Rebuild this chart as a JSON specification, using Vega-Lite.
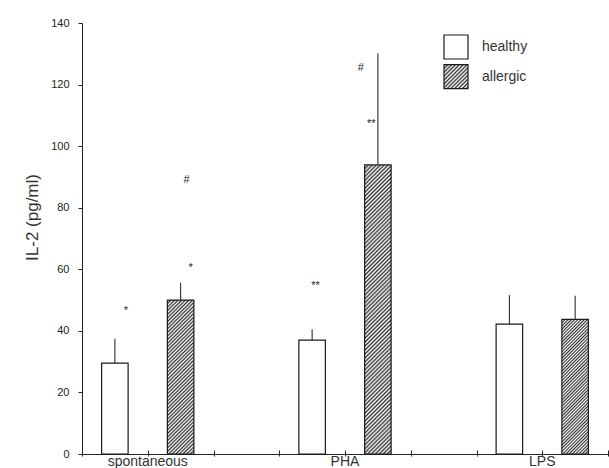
{
  "$schema": "https://vega.github.io/schema/vega-lite/v6.json",
  "width": 526,
  "height": 431,
  "autosize": "none",
  "padding": {"left": 82, "top": 23, "right": 1, "bottom": 14},
  "background": "white",
  "config": {"view": {"stroke": null}, "font": "Liberation Sans"},
  "datasets": {
    "bars": [
      {"stim": "spontaneous", "group": "healthy", "mean": 29.5, "upper": 37.4},
      {"stim": "spontaneous", "group": "allergic", "mean": 50.0, "upper": 55.6},
      {"stim": "PHA", "group": "healthy", "mean": 37.0, "upper": 40.5},
      {"stim": "PHA", "group": "allergic", "mean": 93.9, "upper": 130.1},
      {"stim": "LPS", "group": "healthy", "mean": 42.2, "upper": 51.6},
      {"stim": "LPS", "group": "allergic", "mean": 43.7, "upper": 51.4}
    ],
    "notes": [
      {"stim": "spontaneous", "group": "healthy", "label": "*", "y": 45.4},
      {"stim": "spontaneous", "group": "allergic", "label": "#", "y": 88.1},
      {"stim": "spontaneous", "group": "allergic", "label": "*", "y": 59.3},
      {"stim": "PHA", "group": "healthy", "label": "**", "y": 53.5},
      {"stim": "PHA", "group": "allergic", "label": "#", "y": 124.4},
      {"stim": "PHA", "group": "allergic", "label": "**", "y": 106.1}
    ]
  },
  "data": {"name": "bars"},
  "resolve": {"scale": {"x": "independent"}, "axis": {"x": "independent"}},
  "layer": [
    {
      "mark": {"type": "rule", "opacity": 0},
      "encoding": {
        "x": {"datum": 0, "type": "quantitative", "scale": {"domain": [0, 8], "nice": false, "zero": false},
          "axis": {"orient": "bottom", "values": [0, 1, 2, 3, 4, 5, 6, 7, 8], "labels": false, "domain": false, "grid": false, "title": null, "tickSize": 6, "offset": -4, "tickColor": "#222", "tickWidth": 1}}
      }
    },
    {
      "mark": {"type": "rule", "opacity": 0},
      "encoding": {
        "x": {"datum": 0, "type": "quantitative", "scale": {"domain": [0, 8], "nice": false, "zero": false},
          "axis": {"orient": "bottom", "labels": false, "ticks": false, "domain": true, "domainColor": "#222", "domainWidth": 1, "grid": false, "title": null}}
      }
    },
    {
      "encoding": {
        "x": {"field": "stim", "type": "nominal", "sort": ["spontaneous", "PHA", "LPS"],
          "scale": {"domain": ["spontaneous", "PHA", "LPS"], "range": [-32.875, 558.875], "paddingInner": 0, "paddingOuter": 0},
          "axis": {"orient": "bottom", "title": null, "domain": false, "ticks": false, "labelAngle": 0, "labelFontSize": 14, "labelColor": "#333", "labelPadding": 0, "grid": false}},
        "xOffset": {"field": "group", "type": "nominal", "sort": ["healthy", "allergic"],
          "scale": {"domain": ["healthy", "allergic"], "paddingInner": 0.597, "paddingOuter": 0.7985}}
      },
      "layer": [
        {
          "mark": {"type": "bar", "strokeWidth": 1.2, "fill": {"gradient": "linear", "x1": 0, "y1": 0, "x2": 1, "y2": 1, "stops": [
{"offset":0,"color":"#333"},{"offset":0.04,"color":"#fff"},{"offset":0.08,"color":"#333"},{"offset":0.12,"color":"#fff"},{"offset":0.16,"color":"#333"},{"offset":0.2,"color":"#fff"},{"offset":0.24,"color":"#333"},{"offset":0.28,"color":"#fff"},{"offset":0.32,"color":"#333"},{"offset":0.36,"color":"#fff"},{"offset":0.4,"color":"#333"},{"offset":0.44,"color":"#fff"},{"offset":0.48,"color":"#333"},{"offset":0.52,"color":"#fff"},{"offset":0.56,"color":"#333"},{"offset":0.6,"color":"#fff"},{"offset":0.64,"color":"#333"},{"offset":0.68,"color":"#fff"},{"offset":0.72,"color":"#333"},{"offset":0.76,"color":"#fff"},{"offset":0.8,"color":"#333"},{"offset":0.84,"color":"#fff"},{"offset":0.88,"color":"#333"},{"offset":0.92,"color":"#fff"},{"offset":0.96,"color":"#333"},{"offset":1,"color":"#fff"}
          ]}},
          "encoding": {
            "y": {"field": "mean", "type": "quantitative",
              "scale": {"domain": [0, 140], "nice": false},
              "axis": {"values": [0, 20, 40, 60, 80, 100, 120, 140], "tickSize": 4, "tickColor": "#222", "domainColor": "#222", "grid": false, "labelFontSize": 11, "labelColor": "#222", "labelPadding": 9,
                "title": "IL-2 (pg/ml)", "titleFontSize": 17, "titleFontWeight": "normal", "titleColor": "#333", "titleX": -50, "titleY": 194, "titleBaseline": "middle", "titleAlign": "center"}},
            "stroke": {"field": "group", "type": "nominal",
              "scale": {"domain": ["allergic", "healthy"], "range": ["#1a1a1a", "#1a1a1a"]},
              "legend": {"title": null, "orient": "none", "legendX": 361, "legendY": 40.7, "padding": 0, "values": ["allergic"],
                "symbolType": "square", "symbolSize": 576, "symbolStrokeWidth": 1.2,
                "labelFontSize": 14, "labelColor": "#333", "labelOffset": 13}},
            "fill": {
              "condition": [
                {"test": "false", "value": {"gradient": "linear", "x1": 0, "y1": 0, "x2": 1, "y2": 1, "stops": [
{"offset":0,"color":"#333"},{"offset":0.04,"color":"#fff"},{"offset":0.08,"color":"#333"},{"offset":0.12,"color":"#fff"},{"offset":0.16,"color":"#333"},{"offset":0.2,"color":"#fff"},{"offset":0.24,"color":"#333"},{"offset":0.28,"color":"#fff"},{"offset":0.32,"color":"#333"},{"offset":0.36,"color":"#fff"},{"offset":0.4,"color":"#333"},{"offset":0.44,"color":"#fff"},{"offset":0.48,"color":"#333"},{"offset":0.52,"color":"#fff"},{"offset":0.56,"color":"#333"},{"offset":0.6,"color":"#fff"},{"offset":0.64,"color":"#333"},{"offset":0.68,"color":"#fff"},{"offset":0.72,"color":"#333"},{"offset":0.76,"color":"#fff"},{"offset":0.8,"color":"#333"},{"offset":0.84,"color":"#fff"},{"offset":0.88,"color":"#333"},{"offset":0.92,"color":"#fff"},{"offset":0.96,"color":"#333"},{"offset":1,"color":"#fff"}
                ]}},
                {"test": "datum.stim === 'PHA' && datum.group === 'allergic'", "value": {"gradient": "linear", "x1": 0, "y1": 0, "x2": 0.09924, "y2": 1.0826, "stops": [
{"offset":0,"color":"#333"},{"offset":0.00625,"color":"#fff"},{"offset":0.0125,"color":"#333"},{"offset":0.01875,"color":"#fff"},{"offset":0.025,"color":"#333"},{"offset":0.03125,"color":"#fff"},{"offset":0.0375,"color":"#333"},{"offset":0.04375,"color":"#fff"},{"offset":0.05,"color":"#333"},{"offset":0.05625,"color":"#fff"},{"offset":0.0625,"color":"#333"},{"offset":0.06875,"color":"#fff"},{"offset":0.075,"color":"#333"},{"offset":0.08125,"color":"#fff"},{"offset":0.0875,"color":"#333"},{"offset":0.09375,"color":"#fff"},
{"offset":0.1,"color":"#333"},{"offset":0.10625,"color":"#fff"},{"offset":0.1125,"color":"#333"},{"offset":0.11875,"color":"#fff"},{"offset":0.125,"color":"#333"},{"offset":0.13125,"color":"#fff"},{"offset":0.1375,"color":"#333"},{"offset":0.14375,"color":"#fff"},{"offset":0.15,"color":"#333"},{"offset":0.15625,"color":"#fff"},{"offset":0.1625,"color":"#333"},{"offset":0.16875,"color":"#fff"},{"offset":0.175,"color":"#333"},{"offset":0.18125,"color":"#fff"},{"offset":0.1875,"color":"#333"},{"offset":0.19375,"color":"#fff"},
{"offset":0.2,"color":"#333"},{"offset":0.20625,"color":"#fff"},{"offset":0.2125,"color":"#333"},{"offset":0.21875,"color":"#fff"},{"offset":0.225,"color":"#333"},{"offset":0.23125,"color":"#fff"},{"offset":0.2375,"color":"#333"},{"offset":0.24375,"color":"#fff"},{"offset":0.25,"color":"#333"},{"offset":0.25625,"color":"#fff"},{"offset":0.2625,"color":"#333"},{"offset":0.26875,"color":"#fff"},{"offset":0.275,"color":"#333"},{"offset":0.28125,"color":"#fff"},{"offset":0.2875,"color":"#333"},{"offset":0.29375,"color":"#fff"},
{"offset":0.3,"color":"#333"},{"offset":0.30625,"color":"#fff"},{"offset":0.3125,"color":"#333"},{"offset":0.31875,"color":"#fff"},{"offset":0.325,"color":"#333"},{"offset":0.33125,"color":"#fff"},{"offset":0.3375,"color":"#333"},{"offset":0.34375,"color":"#fff"},{"offset":0.35,"color":"#333"},{"offset":0.35625,"color":"#fff"},{"offset":0.3625,"color":"#333"},{"offset":0.36875,"color":"#fff"},{"offset":0.375,"color":"#333"},{"offset":0.38125,"color":"#fff"},{"offset":0.3875,"color":"#333"},{"offset":0.39375,"color":"#fff"},
{"offset":0.4,"color":"#333"},{"offset":0.40625,"color":"#fff"},{"offset":0.4125,"color":"#333"},{"offset":0.41875,"color":"#fff"},{"offset":0.425,"color":"#333"},{"offset":0.43125,"color":"#fff"},{"offset":0.4375,"color":"#333"},{"offset":0.44375,"color":"#fff"},{"offset":0.45,"color":"#333"},{"offset":0.45625,"color":"#fff"},{"offset":0.4625,"color":"#333"},{"offset":0.46875,"color":"#fff"},{"offset":0.475,"color":"#333"},{"offset":0.48125,"color":"#fff"},{"offset":0.4875,"color":"#333"},{"offset":0.49375,"color":"#fff"},
{"offset":0.5,"color":"#333"},{"offset":0.50625,"color":"#fff"},{"offset":0.5125,"color":"#333"},{"offset":0.51875,"color":"#fff"},{"offset":0.525,"color":"#333"},{"offset":0.53125,"color":"#fff"},{"offset":0.5375,"color":"#333"},{"offset":0.54375,"color":"#fff"},{"offset":0.55,"color":"#333"},{"offset":0.55625,"color":"#fff"},{"offset":0.5625,"color":"#333"},{"offset":0.56875,"color":"#fff"},{"offset":0.575,"color":"#333"},{"offset":0.58125,"color":"#fff"},{"offset":0.5875,"color":"#333"},{"offset":0.59375,"color":"#fff"},
{"offset":0.6,"color":"#333"},{"offset":0.60625,"color":"#fff"},{"offset":0.6125,"color":"#333"},{"offset":0.61875,"color":"#fff"},{"offset":0.625,"color":"#333"},{"offset":0.63125,"color":"#fff"},{"offset":0.6375,"color":"#333"},{"offset":0.64375,"color":"#fff"},{"offset":0.65,"color":"#333"},{"offset":0.65625,"color":"#fff"},{"offset":0.6625,"color":"#333"},{"offset":0.66875,"color":"#fff"},{"offset":0.675,"color":"#333"},{"offset":0.68125,"color":"#fff"},{"offset":0.6875,"color":"#333"},{"offset":0.69375,"color":"#fff"},
{"offset":0.7,"color":"#333"},{"offset":0.70625,"color":"#fff"},{"offset":0.7125,"color":"#333"},{"offset":0.71875,"color":"#fff"},{"offset":0.725,"color":"#333"},{"offset":0.73125,"color":"#fff"},{"offset":0.7375,"color":"#333"},{"offset":0.74375,"color":"#fff"},{"offset":0.75,"color":"#333"},{"offset":0.75625,"color":"#fff"},{"offset":0.7625,"color":"#333"},{"offset":0.76875,"color":"#fff"},{"offset":0.775,"color":"#333"},{"offset":0.78125,"color":"#fff"},{"offset":0.7875,"color":"#333"},{"offset":0.79375,"color":"#fff"},
{"offset":0.8,"color":"#333"},{"offset":0.80625,"color":"#fff"},{"offset":0.8125,"color":"#333"},{"offset":0.81875,"color":"#fff"},{"offset":0.825,"color":"#333"},{"offset":0.83125,"color":"#fff"},{"offset":0.8375,"color":"#333"},{"offset":0.84375,"color":"#fff"},{"offset":0.85,"color":"#333"},{"offset":0.85625,"color":"#fff"},{"offset":0.8625,"color":"#333"},{"offset":0.86875,"color":"#fff"},{"offset":0.875,"color":"#333"},{"offset":0.88125,"color":"#fff"},{"offset":0.8875,"color":"#333"},{"offset":0.89375,"color":"#fff"},
{"offset":0.9,"color":"#333"},{"offset":0.90625,"color":"#fff"},{"offset":0.9125,"color":"#333"},{"offset":0.91875,"color":"#fff"},{"offset":0.925,"color":"#333"},{"offset":0.93125,"color":"#fff"},{"offset":0.9375,"color":"#333"},{"offset":0.94375,"color":"#fff"},{"offset":0.95,"color":"#333"},{"offset":0.95625,"color":"#fff"},{"offset":0.9625,"color":"#333"},{"offset":0.96875,"color":"#fff"},{"offset":0.975,"color":"#333"},{"offset":0.98125,"color":"#fff"},{"offset":0.9875,"color":"#333"},{"offset":0.99375,"color":"#fff"},
{"offset":1,"color":"#333"}
                ]}},
                {"test": "datum.stim === 'spontaneous' && datum.group === 'allergic'", "value": {"gradient": "linear", "x1": 0, "y1": 0, "x2": 0.196, "y2": 1.1386, "stops": [
{"offset":0,"color":"#333"},{"offset":0.01,"color":"#fff"},{"offset":0.02,"color":"#333"},{"offset":0.03,"color":"#fff"},{"offset":0.04,"color":"#333"},{"offset":0.05,"color":"#fff"},{"offset":0.06,"color":"#333"},{"offset":0.07,"color":"#fff"},{"offset":0.08,"color":"#333"},{"offset":0.09,"color":"#fff"},
{"offset":0.1,"color":"#333"},{"offset":0.11,"color":"#fff"},{"offset":0.12,"color":"#333"},{"offset":0.13,"color":"#fff"},{"offset":0.14,"color":"#333"},{"offset":0.15,"color":"#fff"},{"offset":0.16,"color":"#333"},{"offset":0.17,"color":"#fff"},{"offset":0.18,"color":"#333"},{"offset":0.19,"color":"#fff"},
{"offset":0.2,"color":"#333"},{"offset":0.21,"color":"#fff"},{"offset":0.22,"color":"#333"},{"offset":0.23,"color":"#fff"},{"offset":0.24,"color":"#333"},{"offset":0.25,"color":"#fff"},{"offset":0.26,"color":"#333"},{"offset":0.27,"color":"#fff"},{"offset":0.28,"color":"#333"},{"offset":0.29,"color":"#fff"},
{"offset":0.3,"color":"#333"},{"offset":0.31,"color":"#fff"},{"offset":0.32,"color":"#333"},{"offset":0.33,"color":"#fff"},{"offset":0.34,"color":"#333"},{"offset":0.35,"color":"#fff"},{"offset":0.36,"color":"#333"},{"offset":0.37,"color":"#fff"},{"offset":0.38,"color":"#333"},{"offset":0.39,"color":"#fff"},
{"offset":0.4,"color":"#333"},{"offset":0.41,"color":"#fff"},{"offset":0.42,"color":"#333"},{"offset":0.43,"color":"#fff"},{"offset":0.44,"color":"#333"},{"offset":0.45,"color":"#fff"},{"offset":0.46,"color":"#333"},{"offset":0.47,"color":"#fff"},{"offset":0.48,"color":"#333"},{"offset":0.49,"color":"#fff"},
{"offset":0.5,"color":"#333"},{"offset":0.51,"color":"#fff"},{"offset":0.52,"color":"#333"},{"offset":0.53,"color":"#fff"},{"offset":0.54,"color":"#333"},{"offset":0.55,"color":"#fff"},{"offset":0.56,"color":"#333"},{"offset":0.57,"color":"#fff"},{"offset":0.58,"color":"#333"},{"offset":0.59,"color":"#fff"},
{"offset":0.6,"color":"#333"},{"offset":0.61,"color":"#fff"},{"offset":0.62,"color":"#333"},{"offset":0.63,"color":"#fff"},{"offset":0.64,"color":"#333"},{"offset":0.65,"color":"#fff"},{"offset":0.66,"color":"#333"},{"offset":0.67,"color":"#fff"},{"offset":0.68,"color":"#333"},{"offset":0.69,"color":"#fff"},
{"offset":0.7,"color":"#333"},{"offset":0.71,"color":"#fff"},{"offset":0.72,"color":"#333"},{"offset":0.73,"color":"#fff"},{"offset":0.74,"color":"#333"},{"offset":0.75,"color":"#fff"},{"offset":0.76,"color":"#333"},{"offset":0.77,"color":"#fff"},{"offset":0.78,"color":"#333"},{"offset":0.79,"color":"#fff"},
{"offset":0.8,"color":"#333"},{"offset":0.81,"color":"#fff"},{"offset":0.82,"color":"#333"},{"offset":0.83,"color":"#fff"},{"offset":0.84,"color":"#333"},{"offset":0.85,"color":"#fff"},{"offset":0.86,"color":"#333"},{"offset":0.87,"color":"#fff"},{"offset":0.88,"color":"#333"},{"offset":0.89,"color":"#fff"},
{"offset":0.9,"color":"#333"},{"offset":0.91,"color":"#fff"},{"offset":0.92,"color":"#333"},{"offset":0.93,"color":"#fff"},{"offset":0.94,"color":"#333"},{"offset":0.95,"color":"#fff"},{"offset":0.96,"color":"#333"},{"offset":0.97,"color":"#fff"},{"offset":0.98,"color":"#333"},{"offset":0.99,"color":"#fff"},
{"offset":1,"color":"#333"}
                ]}},
                {"test": "datum.stim === 'LPS' && datum.group === 'allergic'", "value": {"gradient": "linear", "x1": 0, "y1": 0, "x2": 0.22698, "y2": 1.1523, "stops": [
{"offset":0,"color":"#333"},{"offset":0.01,"color":"#fff"},{"offset":0.02,"color":"#333"},{"offset":0.03,"color":"#fff"},{"offset":0.04,"color":"#333"},{"offset":0.05,"color":"#fff"},{"offset":0.06,"color":"#333"},{"offset":0.07,"color":"#fff"},{"offset":0.08,"color":"#333"},{"offset":0.09,"color":"#fff"},
{"offset":0.1,"color":"#333"},{"offset":0.11,"color":"#fff"},{"offset":0.12,"color":"#333"},{"offset":0.13,"color":"#fff"},{"offset":0.14,"color":"#333"},{"offset":0.15,"color":"#fff"},{"offset":0.16,"color":"#333"},{"offset":0.17,"color":"#fff"},{"offset":0.18,"color":"#333"},{"offset":0.19,"color":"#fff"},
{"offset":0.2,"color":"#333"},{"offset":0.21,"color":"#fff"},{"offset":0.22,"color":"#333"},{"offset":0.23,"color":"#fff"},{"offset":0.24,"color":"#333"},{"offset":0.25,"color":"#fff"},{"offset":0.26,"color":"#333"},{"offset":0.27,"color":"#fff"},{"offset":0.28,"color":"#333"},{"offset":0.29,"color":"#fff"},
{"offset":0.3,"color":"#333"},{"offset":0.31,"color":"#fff"},{"offset":0.32,"color":"#333"},{"offset":0.33,"color":"#fff"},{"offset":0.34,"color":"#333"},{"offset":0.35,"color":"#fff"},{"offset":0.36,"color":"#333"},{"offset":0.37,"color":"#fff"},{"offset":0.38,"color":"#333"},{"offset":0.39,"color":"#fff"},
{"offset":0.4,"color":"#333"},{"offset":0.41,"color":"#fff"},{"offset":0.42,"color":"#333"},{"offset":0.43,"color":"#fff"},{"offset":0.44,"color":"#333"},{"offset":0.45,"color":"#fff"},{"offset":0.46,"color":"#333"},{"offset":0.47,"color":"#fff"},{"offset":0.48,"color":"#333"},{"offset":0.49,"color":"#fff"},
{"offset":0.5,"color":"#333"},{"offset":0.51,"color":"#fff"},{"offset":0.52,"color":"#333"},{"offset":0.53,"color":"#fff"},{"offset":0.54,"color":"#333"},{"offset":0.55,"color":"#fff"},{"offset":0.56,"color":"#333"},{"offset":0.57,"color":"#fff"},{"offset":0.58,"color":"#333"},{"offset":0.59,"color":"#fff"},
{"offset":0.6,"color":"#333"},{"offset":0.61,"color":"#fff"},{"offset":0.62,"color":"#333"},{"offset":0.63,"color":"#fff"},{"offset":0.64,"color":"#333"},{"offset":0.65,"color":"#fff"},{"offset":0.66,"color":"#333"},{"offset":0.67,"color":"#fff"},{"offset":0.68,"color":"#333"},{"offset":0.69,"color":"#fff"},
{"offset":0.7,"color":"#333"},{"offset":0.71,"color":"#fff"},{"offset":0.72,"color":"#333"},{"offset":0.73,"color":"#fff"},{"offset":0.74,"color":"#333"},{"offset":0.75,"color":"#fff"},{"offset":0.76,"color":"#333"},{"offset":0.77,"color":"#fff"},{"offset":0.78,"color":"#333"},{"offset":0.79,"color":"#fff"},
{"offset":0.8,"color":"#333"},{"offset":0.81,"color":"#fff"},{"offset":0.82,"color":"#333"},{"offset":0.83,"color":"#fff"},{"offset":0.84,"color":"#333"},{"offset":0.85,"color":"#fff"},{"offset":0.86,"color":"#333"},{"offset":0.87,"color":"#fff"},{"offset":0.88,"color":"#333"},{"offset":0.89,"color":"#fff"},
{"offset":0.9,"color":"#333"},{"offset":0.91,"color":"#fff"},{"offset":0.92,"color":"#333"},{"offset":0.93,"color":"#fff"},{"offset":0.94,"color":"#333"},{"offset":0.95,"color":"#fff"},{"offset":0.96,"color":"#333"},{"offset":0.97,"color":"#fff"},{"offset":0.98,"color":"#333"},{"offset":0.99,"color":"#fff"},
{"offset":1,"color":"#333"}
                ]}}
              ],
              "field": "group", "type": "nominal",
              "scale": {"domain": ["healthy", "allergic"], "range": ["white", "white"]},
              "legend": {"title": null, "orient": "none", "legendX": 361, "legendY": 11, "padding": 0, "values": ["healthy"],
                "symbolType": "square", "symbolSize": 576, "symbolStrokeColor": "#1a1a1a", "symbolStrokeWidth": 1.2,
                "labelFontSize": 14, "labelColor": "#333", "labelOffset": 13}
            }
          }
        },
        {
          "mark": {"type": "rule", "color": "#1a1a1a", "strokeWidth": 1},
          "encoding": {
            "y": {"field": "mean", "type": "quantitative"},
            "y2": {"field": "upper"}
          }
        },
        {
          "data": {"name": "notes"},
          "transform": [{"filter": "datum.stim === 'spontaneous' && datum.group === 'healthy'"}],
          "mark": {"type": "text", "fontSize": 11, "color": "#222", "dx": 11, "baseline": "alphabetic"},
          "encoding": {"y": {"field": "y", "type": "quantitative"}, "text": {"field": "label"}}
        },
        {
          "data": {"name": "notes"},
          "transform": [{"filter": "datum.stim === 'spontaneous' && datum.group === 'allergic' && datum.label === '#'"}],
          "mark": {"type": "text", "fontSize": 11, "color": "#222", "dx": 6, "baseline": "alphabetic"},
          "encoding": {"y": {"field": "y", "type": "quantitative"}, "text": {"field": "label"}}
        },
        {
          "data": {"name": "notes"},
          "transform": [{"filter": "datum.stim === 'spontaneous' && datum.group === 'allergic' && datum.label === '*'"}],
          "mark": {"type": "text", "fontSize": 11, "color": "#222", "dx": 10, "baseline": "alphabetic"},
          "encoding": {"y": {"field": "y", "type": "quantitative"}, "text": {"field": "label"}}
        },
        {
          "data": {"name": "notes"},
          "transform": [{"filter": "datum.stim === 'PHA' && datum.group === 'healthy'"}],
          "mark": {"type": "text", "fontSize": 11, "color": "#222", "dx": 3.5, "baseline": "alphabetic"},
          "encoding": {"y": {"field": "y", "type": "quantitative"}, "text": {"field": "label"}}
        },
        {
          "data": {"name": "notes"},
          "transform": [{"filter": "datum.stim === 'PHA' && datum.group === 'allergic' && datum.label === '#'"}],
          "mark": {"type": "text", "fontSize": 11, "color": "#222", "dx": -17, "baseline": "alphabetic"},
          "encoding": {"y": {"field": "y", "type": "quantitative"}, "text": {"field": "label"}}
        },
        {
          "data": {"name": "notes"},
          "transform": [{"filter": "datum.stim === 'PHA' && datum.group === 'allergic' && datum.label === '**'"}],
          "mark": {"type": "text", "fontSize": 11, "color": "#222", "dx": -6.5, "baseline": "alphabetic"},
          "encoding": {"y": {"field": "y", "type": "quantitative"}, "text": {"field": "label"}}
        }
      ]
    }
  ]
}
